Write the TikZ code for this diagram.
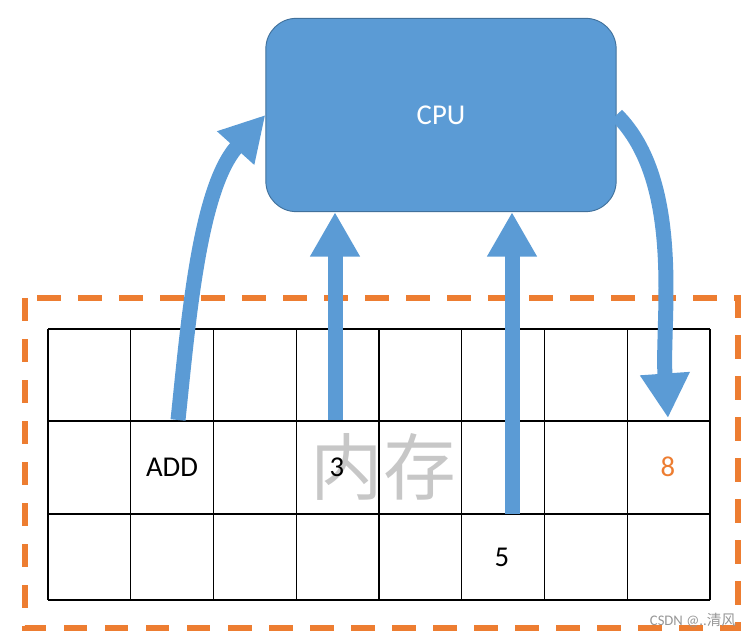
\documentclass[tikz,border=0pt]{standalone}
\usepackage{fontspec}
\setmainfont{Carlito}
\newfontfamily\cjk{Noto Sans CJK SC}
\usetikzlibrary{arrows.meta}
\definecolor{cpufill}{RGB}{91,155,213}
\definecolor{cpuline}{RGB}{65,113,156}
\definecolor{memline}{RGB}{237,125,49}
\definecolor{watergray}{RGB}{150,150,150}
\tikzset{
  CPUBOX/.style={draw=cpuline, fill=cpufill, line width=0.8pt,
                 rounded corners=26pt, minimum width=299pt, minimum height=165pt,
                 inner sep=0pt, text=white, font=\fontsize{24.5}{26}\selectfont},
  MEM/.style={draw=memline, line width=4.3pt, dash pattern=on 20pt off 15pt},
  CELL/.style={black, line width=1.1pt},
  BUS/.style={cpufill, line width=12.8pt,
              -{Triangle[width=40pt, length=38pt]}},
  VAL/.style={font=\fontsize{24.5}{26}\selectfont, inner sep=0pt},
}

\begin{document}
\begin{tikzpicture}[x=0.03cm, y=0.03cm]
  \useasboundingbox (0,0) rectangle (752,638);

  % memory frame
  \draw[MEM] (25,340) rectangle (738,10);

  % memory cells
  \foreach \cx in {0,...,8}
    \draw[CELL] ({48+82.75*\cx},309) -- ({48+82.75*\cx},38);
  \foreach \cy in {309,217,124,38}
    \draw[CELL] (48,\cy) -- (710,\cy);

  % watermark of the cells
  \node[font=\cjk\fontsize{62}{64}\selectfont, text=black!22, inner sep=0pt]
    (memtxt) at (383,171) {内存};

  % cell contents
  \node[VAL] (vadd) at (172,171) {ADD};
  \node[VAL] (vthree) at (337,171) {3};
  \node[VAL] (vfive) at (502,81) {5};
  \node[VAL, text=memline] (veight) at (668,171) {8};

  % processor
  \node[CPUBOX] (cpu) at (441,523) {CPU};

  % bus ends in the cells
  \coordinate (aadd) at (178,218);
  \coordinate (athree) at (335,218);
  \coordinate (afive) at (512,124);
  \coordinate (aeight) at (668,220);

  % transfers
  \draw[BUS] (aadd) to[out=84, in=228, looseness=0.8] (cpu.west);
  \draw[BUS] (athree) -- (athree |- cpu.south);
  \draw[BUS] (afive) -- (afive |- cpu.south);
  \draw[BUS] (cpu.east) to[out=-45, in=94, looseness=0.8] (aeight);

  \node[font=\fontsize{12.5}{13}\selectfont, text=watergray, inner sep=0pt]
    (mark) at (693,18) {CSDN @..\cjk 清风};
\end{tikzpicture}
\end{document}
